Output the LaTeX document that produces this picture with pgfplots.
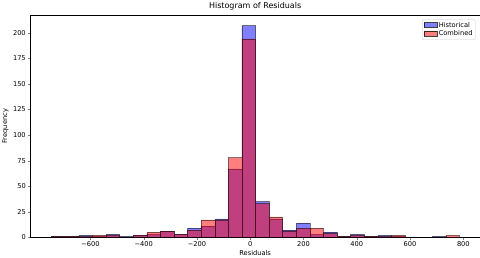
\documentclass[border=0pt]{standalone}
\usepackage{fontspec}
\setmainfont{DejaVu Sans}
\usepackage{pgfplots}
\pgfplotsset{compat=1.18}
\usepackage{pgfplotstable}
\pgfplotstableread{
x y
-745 1
-694 1
-643 2
-592 1
-541 3
-490 1
-439 2
-388 3
-337 6
-286 3
-235 9
-184 11
-133 18
-82 67
-31 207
20 35
71 18
122 7
173 14
224 3
275 5
326 1
377 3
428 1
479 2
530 1
581 0
632 0
683 1
734 0
785 0
}\hist
\pgfplotstableread{
x y
-745 1
-694 1
-643 1
-592 2
-541 2
-490 0
-439 2
-388 5
-337 6
-286 3
-235 7
-184 17
-133 17
-82 78
-31 194
20 33
71 20
122 6
173 9
224 9
275 4
326 1
377 2
428 1
479 1
530 2
581 0
632 0
683 0
734 2
785 2
}\comb
\begin{document}
\begin{tikzpicture}
\begin{axis}[
  scale only axis,
  width=675pt, height=334pt,
  xmin=-825, xmax=862, ymin=0, ymax=217.4,
  xtick={-600,-400,-200,0,200,400,600,800},
  xticklabels={−600,−400,−200,0,200,400,600,800},
  ytick={0,25,50,75,100,125,150,175,200},
  /pgf/number format/assume math mode=true,
  tick label style={font=\fontsize{10}{12}\selectfont},
  tick align=outside,
  tick pos=left,
  major tick length=3.5pt,
  title={Histogram of Residuals},
  title style={font=\fontsize{12}{14}\selectfont, yshift=-2pt},
  xlabel={Residuals}, ylabel={Frequency},
  label style={font=\fontsize{10}{12}\selectfont},
  xlabel style={yshift=2pt},
  legend pos=north east,
  legend style={font=\fontsize{10}{12}\selectfont, draw=black!20, rounded corners=2pt, legend cell align=left, at={(0.99,0.98)}, anchor=north east, inner sep=2pt},
  legend image code/.code={\fill[#1, sharp corners] (0pt,-3pt) rectangle (20pt,4pt); \draw[#1, fill=none, sharp corners] (0pt,-3pt) rectangle (20pt,4pt);},
  axis line style={black},
]
\addplot[ybar interval, fill=blue, draw=black, fill opacity=0.5, draw opacity=0.5, line width=0.8pt] table[x=x,y=y]{\hist};
\addlegendentry{Historical}
\addplot[ybar interval, fill=red, draw=black, fill opacity=0.5, draw opacity=0.5, line width=0.8pt] table[x=x,y=y]{\comb};
\addlegendentry{Combined}
\end{axis}
\end{tikzpicture}
\end{document}
